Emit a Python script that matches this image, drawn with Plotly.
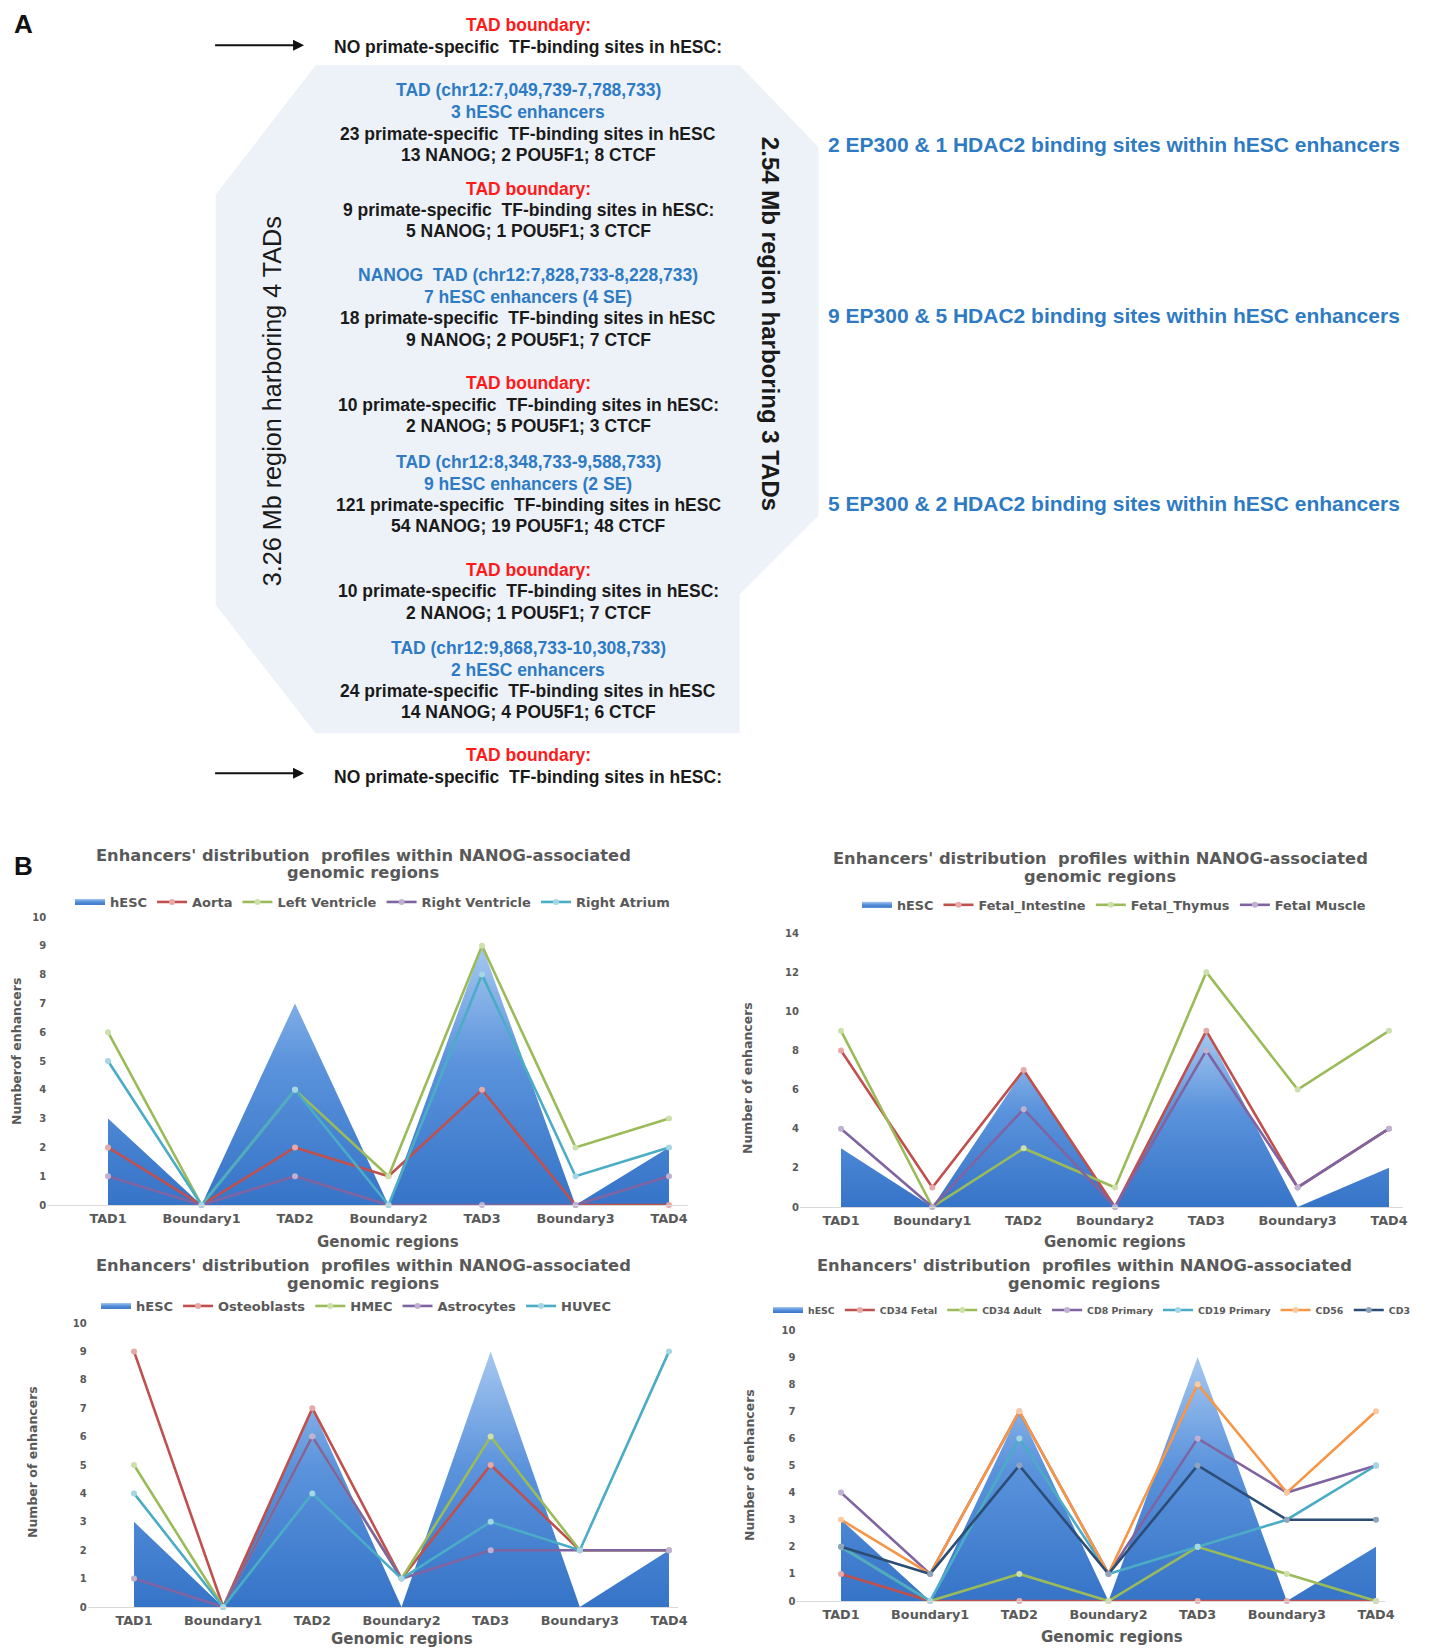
import plotly.graph_objects as go

W, H = 1434, 1650
S = 1434 / 1363.0  # reference preview -> full size

# ---------------- data ----------------
regions = ["TAD1", "Boundary1", "TAD2", "Boundary2", "TAD3", "Boundary3", "TAD4"]
hesc = [3, 0, 7, 0, 9, 0, 2]

aorta = [2, 0, 2, 1, 4, 0, 0]
left_ventricle = [6, 0, 4, 1, 9, 2, 3]
right_ventricle = [1, 0, 1, 0, 0, 0, 1]
right_atrium = [5, 0, 4, 0, 8, 1, 2]

fetal_intestine = [8, 1, 7, 0, 9, 1, 4]
fetal_thymus = [9, 0, 3, 1, 12, 6, 9]
fetal_muscle = [4, 0, 5, 0, 8, 1, 4]

osteoblasts = [9, 0, 7, 1, 5, 2, 2]
hmec = [5, 0, 6, 1, 6, 2, 2]
astrocytes = [1, 0, 6, 1, 2, 2, 2]
huvec = [4, 0, 4, 1, 3, 2, 9]

cd34_fetal = [1, 0, 0, 0, 0, 0, 0]
cd34_adult = [2, 0, 1, 0, 2, 1, 0]
cd8_primary = [4, 1, 7, 1, 6, 4, 5]
cd19_primary = [2, 0, 6, 1, 2, 3, 5]
cd56 = [3, 1, 7, 1, 8, 4, 7]
cd3 = [2, 1, 5, 1, 5, 3, 3]

title_line1 = "Enhancers' distribution  profiles within NANOG-associated"
title_line2 = "genomic regions"

RED, GREEN, PURPLE, CYAN, ORANGE, NAVY = "#C0504D", "#9BBB59", "#8064A2", "#4BACC6", "#F79646", "#2C4D75"
TINT = {RED: "#E6A9A7", GREEN: "#CDE0AC", PURPLE: "#BFB1D1", CYAN: "#A5D6E3",
        ORANGE: "#FBCAA2", NAVY: "#8FA3BD"}

charts = [
    dict(series=[("Aorta", aorta, RED), ("Left Ventricle", left_ventricle, GREEN),
                 ("Right Ventricle", right_ventricle, PURPLE), ("Right Atrium", right_atrium, CYAN)],
         x0=108, x6=669, rng=[-0.65, 6.2], y0=1205, ytop=917, ymax=10, dtick=1,
         ytitle="Numberof enhancers", ytx=16, yty=1052,
         tx=363, ty1=855, ty2=873, lgx=70, lgy=902, lgs=13, gx=388, gy=1242),
    dict(series=[("Fetal_Intestine", fetal_intestine, RED), ("Fetal_Thymus", fetal_thymus, GREEN),
                 ("Fetal Muscle", fetal_muscle, PURPLE)],
         x0=841, x6=1389, rng=[-0.45, 6.15], y0=1207, ytop=933, ymax=14, dtick=2,
         ytitle="Number of enhancers", ytx=747, yty=1078,
         tx=1100, ty1=858, ty2=876, lgx=857, lgy=905, lgs=12.8, gx=1115, gy=1242),
    dict(series=[("Osteoblasts", osteoblasts, RED), ("HMEC", hmec, GREEN),
                 ("Astrocytes", astrocytes, PURPLE), ("HUVEC", huvec, CYAN)],
         x0=134, x6=669, rng=[-0.52, 6.1], y0=1607, ytop=1323, ymax=10, dtick=1,
         ytitle="Number of enhancers", ytx=32, yty=1462,
         tx=363, ty1=1265, ty2=1283, lgx=96, lgy=1306, lgs=13, gx=402, gy=1639),
    dict(series=[("CD34 Fetal", cd34_fetal, RED), ("CD34 Adult", cd34_adult, GREEN),
                 ("CD8 Primary", cd8_primary, PURPLE), ("CD19 Primary", cd19_primary, CYAN),
                 ("CD56", cd56, ORANGE), ("CD3", cd3, NAVY)],
         x0=841, x6=1376, rng=[-0.5, 6.1], y0=1601, ytop=1330, ymax=10, dtick=1,
         ytitle="Number of enhancers", ytx=749, yty=1465,
         tx=1084, ty1=1265, ty2=1283, lgx=768, lgy=1310, lgs=9.4, gx=1112, gy=1637),
]

FONT_A = "Liberation Sans, Arial, sans-serif"
FONT_B = "DejaVu Sans, Verdana, sans-serif"
GRAY = "#595959"


def px(x):
    return x / W


def py(y):
    return 1 - y / H


fig = go.Figure()
annotations = []
layout = {}

for i, c in enumerate(charts):
    n = i + 1
    xa = "xaxis" if n == 1 else f"xaxis{n}"
    ya = "yaxis" if n == 1 else f"yaxis{n}"
    xr = "x" if n == 1 else f"x{n}"
    yr = "y" if n == 1 else f"y{n}"
    lg = "legend" if n == 1 else f"legend{n}"
    step = (c["x6"] - c["x0"]) / 6.0
    left = c["x0"] + c["rng"][0] * step
    right = c["x0"] + c["rng"][1] * step
    layout[xa] = dict(domain=[px(left), px(right)], anchor=yr, type="category",
                      categoryorder="array", categoryarray=regions, range=c["rng"],
                      showgrid=False, zeroline=False, showline=True, linecolor="#D9D9D9",
                      linewidth=1, ticks="", automargin=False,
                      tickfont=dict(family=FONT_B, size=12.8, color=GRAY, weight="bold"),
                      ticklabelstandoff=2)
    layout[ya] = dict(domain=[py(c["y0"]), py(c["ytop"])], anchor=xr, range=[0, c["ymax"]],
                      dtick=c["dtick"], tick0=0, showgrid=False, zeroline=False, showline=False,
                      ticks="", automargin=False,
                      tickfont=dict(family=FONT_B, size=10, color=GRAY, weight="bold"))
    layout[lg] = dict(x=px(c["lgx"]), y=py(c["lgy"]), xanchor="left", yanchor="middle",
                      orientation="h", bgcolor="rgba(0,0,0,0)", itemwidth=30,
                      font=dict(family=FONT_B, size=c["lgs"], color=GRAY, weight="bold"),
                      tracegroupgap=0, itemclick=False)

    fig.add_trace(go.Scatter(
        x=regions, y=hesc, name="hESC", mode="none", fill="tozeroy",
        fillcolor="#4A86D6",
        fillgradient=dict(type="vertical", colorscale=[[0, "#3674C8"], [0.55, "#5B93DC"], [1, "#A6C8F0"]]),
        xaxis=xr, yaxis=yr, legend=lg, cliponaxis=False))
    for name, vals, col in c["series"]:
        fig.add_trace(go.Scatter(
            x=regions, y=vals, name=name, mode="lines+markers",
            line=dict(color=col, width=2.6),
            marker=dict(size=6, color=TINT[col], line=dict(width=0)),
            xaxis=xr, yaxis=yr, legend=lg, cliponaxis=False))

    for txt, yy in ((title_line1, c["ty1"]), (title_line2, c["ty2"])):
        annotations.append(dict(x=px(c["tx"]), y=py(yy), xref="paper", yref="paper",
                                text="<b>" + txt + "</b>", showarrow=False,
                                font=dict(family=FONT_B, size=16.3, color=GRAY),
                                xanchor="center", yanchor="middle"))
    annotations.append(dict(x=px(c["gx"]), y=py(c["gy"]), xref="paper", yref="paper",
                            text="<b>Genomic regions</b>", showarrow=False,
                            font=dict(family=FONT_B, size=15, color=GRAY),
                            xanchor="center", yanchor="middle"))
    annotations.append(dict(x=px(c["ytx"]), y=py(c["yty"]), xref="paper", yref="paper",
                            text="<b>" + c["ytitle"] + "</b>", showarrow=False, textangle=-90,
                            font=dict(family=FONT_B, size=12.5, color=GRAY),
                            xanchor="center", yanchor="middle"))

# ---------------- panel A ----------------
BLUE_T = "#2E7BC4"
RED_T = "#FF1A1A"
BLACK_T = "#1A1A1A"
panel_a_lines = [
    ("TAD boundary:", RED_T, 24),
    ("NO primate-specific  TF-binding sites in hESC:", BLACK_T, 45),
    ("TAD (chr12:7,049,739-7,788,733)", BLUE_T, 86),
    ("3 hESC enhancers", BLUE_T, 106),
    ("23 primate-specific  TF-binding sites in hESC", BLACK_T, 127),
    ("13 NANOG; 2 POU5F1; 8 CTCF", BLACK_T, 147),
    ("TAD boundary:", RED_T, 180),
    ("9 primate-specific  TF-binding sites in hESC:", BLACK_T, 200),
    ("5 NANOG; 1 POU5F1; 3 CTCF", BLACK_T, 220),
    ("NANOG  TAD (chr12:7,828,733-8,228,733)", BLUE_T, 261),
    ("7 hESC enhancers (4 SE)", BLUE_T, 282),
    ("18 primate-specific  TF-binding sites in hESC", BLACK_T, 302),
    ("9 NANOG; 2 POU5F1; 7 CTCF", BLACK_T, 323),
    ("TAD boundary:", RED_T, 364),
    ("10 primate-specific  TF-binding sites in hESC:", BLACK_T, 385),
    ("2 NANOG; 5 POU5F1; 3 CTCF", BLACK_T, 405),
    ("TAD (chr12:8,348,733-9,588,733)", BLUE_T, 439),
    ("9 hESC enhancers (2 SE)", BLUE_T, 460),
    ("121 primate-specific  TF-binding sites in hESC", BLACK_T, 480),
    ("54 NANOG; 19 POU5F1; 48 CTCF", BLACK_T, 500),
    ("TAD boundary:", RED_T, 542),
    ("10 primate-specific  TF-binding sites in hESC:", BLACK_T, 562),
    ("2 NANOG; 1 POU5F1; 7 CTCF", BLACK_T, 583),
    ("TAD (chr12:9,868,733-10,308,733)", BLUE_T, 616),
    ("2 hESC enhancers", BLUE_T, 637),
    ("24 primate-specific  TF-binding sites in hESC", BLACK_T, 657),
    ("14 NANOG; 4 POU5F1; 6 CTCF", BLACK_T, 677),
    ("TAD boundary:", RED_T, 718),
    ("NO primate-specific  TF-binding sites in hESC:", BLACK_T, 739),
]
for txt, col, ys in panel_a_lines:
    annotations.append(dict(x=px(502 * S), y=py(ys * S), xref="paper", yref="paper",
                            text="<b>" + txt + "</b>", showarrow=False,
                            font=dict(family=FONT_A, size=17.5, color=col),
                            xanchor="center", yanchor="middle"))

side_notes = [
    ("2 EP300 & 1 HDAC2 binding sites within hESC enhancers", 137),
    ("9 EP300 & 5 HDAC2 binding sites within hESC enhancers", 300),
    ("5 EP300 & 2 HDAC2 binding sites within hESC enhancers", 479),
]
for txt, ys in side_notes:
    annotations.append(dict(x=px(1059 * S), y=py(ys * S), xref="paper", yref="paper",
                            text="<b>" + txt + "</b>", showarrow=False,
                            font=dict(family=FONT_A, size=21, color=BLUE_T),
                            xanchor="center", yanchor="middle"))

annotations.append(dict(x=px(258 * S), y=py(381 * S), xref="paper", yref="paper",
                        text="3.26 Mb region harboring 4 TADs", showarrow=False, textangle=-90,
                        font=dict(family=FONT_A, size=25.2, color=BLACK_T),
                        xanchor="center", yanchor="middle"))
annotations.append(dict(x=px(733 * S), y=py(308 * S), xref="paper", yref="paper",
                        text="<b>2.54 Mb region harboring 3 TADs</b>", showarrow=False, textangle=90,
                        font=dict(family=FONT_A, size=24, color=BLACK_T),
                        xanchor="center", yanchor="middle"))

for ys in (43, 735):
    annotations.append(dict(x=px(289 * S), y=py(ys * S), xref="paper", yref="paper",
                            ax=-(289 - 203) * S, ay=0, axref="pixel", ayref="pixel",
                            text="", showarrow=True, arrowhead=2, arrowsize=1.1,
                            arrowwidth=2, arrowcolor="#111111"))

annotations.append(dict(x=px(12), y=py(24), xref="paper", yref="paper", text="<b>A</b>",
                        showarrow=False, font=dict(family=FONT_A, size=26, color="#111111"),
                        xanchor="left", yanchor="middle"))
annotations.append(dict(x=px(12), y=py(866), xref="paper", yref="paper", text="<b>B</b>",
                        showarrow=False, font=dict(family=FONT_A, size=26, color="#111111"),
                        xanchor="left", yanchor="middle"))

poly = [(300, 62), (703, 62), (778, 140), (778, 490), (703, 565), (703, 697),
        (300, 697), (205, 575), (205, 185)]
path = "M " + " L ".join(f"{px(a * S):.5f},{py(b * S):.5f}" for a, b in poly) + " Z"
shapes = [dict(type="path", path=path, xref="paper", yref="paper",
               fillcolor="#EDF2F9", line=dict(width=0), layer="below")]

fig.update_layout(
    width=W, height=H, margin=dict(l=0, r=0, t=0, b=0, pad=0, autoexpand=False),
    paper_bgcolor="white", plot_bgcolor="rgba(0,0,0,0)",
    annotations=annotations, shapes=shapes, showlegend=True,
    font=dict(family=FONT_B, color=GRAY),
    **layout,
)

fig.write_html("out.html", config={"displayModeBar": False},
               post_script="document.body.style.margin='0';")
